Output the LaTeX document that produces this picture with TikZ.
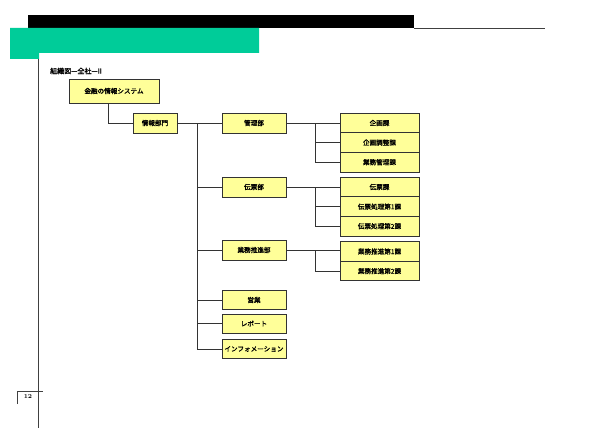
\documentclass[tikz,border=0pt]{standalone}
\usepackage{fontspec}
\newfontfamily\cjk[AutoFakeBold=1.5]{Noto Sans CJK JP}
\usepackage{tikz}
\usetikzlibrary{positioning, calc}
\definecolor{boxfill}{HTML}{FFFF99}
\definecolor{bandgreen}{HTML}{00CC99}
\tikzset{
  org/.style={rectangle, draw=black!80, line width=0.9pt, fill=boxfill,
              minimum height=20, inner sep=0pt, outer sep=0pt,
              font=\cjk\bfseries\fontsize{6.6}{7.5}\selectfont},
  dept/.style={org, minimum width=64},
  sect/.style={org, minimum width=79, minimum height=19.6},
  ln/.style={draw=black!80, line width=0.8pt},
  rule/.style={draw=black!75, line width=0.9pt}
}

\begin{document}
\begin{tikzpicture}[x=1pt, y=-1pt, node distance=0pt]
\useasboundingbox (0,0) rectangle (592,444);

% page frame
\fill[black] (28,15) rectangle (414,28);
\draw[rule] (414,28) -- (545,28);
\fill[bandgreen] (10,28) -- (259,28) -- (259,53) -- (39,53) -- (39,59) -- (10,59) -- cycle;
\draw[rule] (38,59) -- (38,428);
\draw[rule] (17,404) -- (17,391) -- (43,391);
\node[font=\bfseries\fontsize{6}{7}\selectfont, inner sep=0pt] (pg) at (28,397) {12};

\node[font=\cjk\bfseries\fontsize{7}{8}\selectfont, anchor=west, inner sep=0pt] (ttl) at (50,71) {組織図—全社—II};

% top levels
\node[org, minimum width=90, minimum height=24] (top) at (114,91) {金融の情報システム};
\node[org, minimum width=44] (info) at (155,123) {情報部門};

% departments
\node[dept] (d1) at (254,123) {管理部};
\node[dept] (d2) at (254,187) {伝票部};
\node[dept] (d3) at (254,250) {業務推進部};
\node[dept, minimum height=19] (d4) at (254,300) {営業};
\node[dept, minimum height=19] (d5) at (254,323.5) {レポート};
\node[dept, minimum height=19] (d6) at (254,349) {インフォメーション};

% sections
\node[sect] (s11) at (379.5,123) {企画課};
\node[sect, below=of s11] (s12) {企画調整課};
\node[sect, below=of s12] (s13) {業務管理課};
\node[sect] (s21) at (379.5,187) {伝票課};
\node[sect, below=of s21] (s22) {伝票処理第1課};
\node[sect, below=of s22] (s23) {伝票処理第2課};
\node[sect] (s31) at (379.5,251.5) {業務推進第1課};
\node[sect, below=of s31] (s32) {業務推進第2課};

% connectors
\draw[ln] ([xshift=-6]top.south) |- (info.west);
\draw[ln] (info.east) -- (d1.west);
\coordinate (trunk) at (197,123);
\foreach \d in {d2,d3,d4,d5,d6}
  \draw[ln] (trunk) |- (\d.west);

\coordinate (j1) at (315,123);
\coordinate (j2) at (315,187);
\coordinate (j3) at (315,250);
\draw[ln] (d1.east) -- (s11.west);
\draw[ln] (j1) |- (s12.west);
\draw[ln] (j1) |- (s13.west);
\draw[ln] (d2.east) -- (s21.west);
\draw[ln] (j2) |- (s22.west);
\draw[ln] (j2) |- (s23.west);
\draw[ln] (d3.east) -- (d3.east -| s31.west);
\draw[ln] (j3) |- (s32.west);
\end{tikzpicture}
\end{document}
